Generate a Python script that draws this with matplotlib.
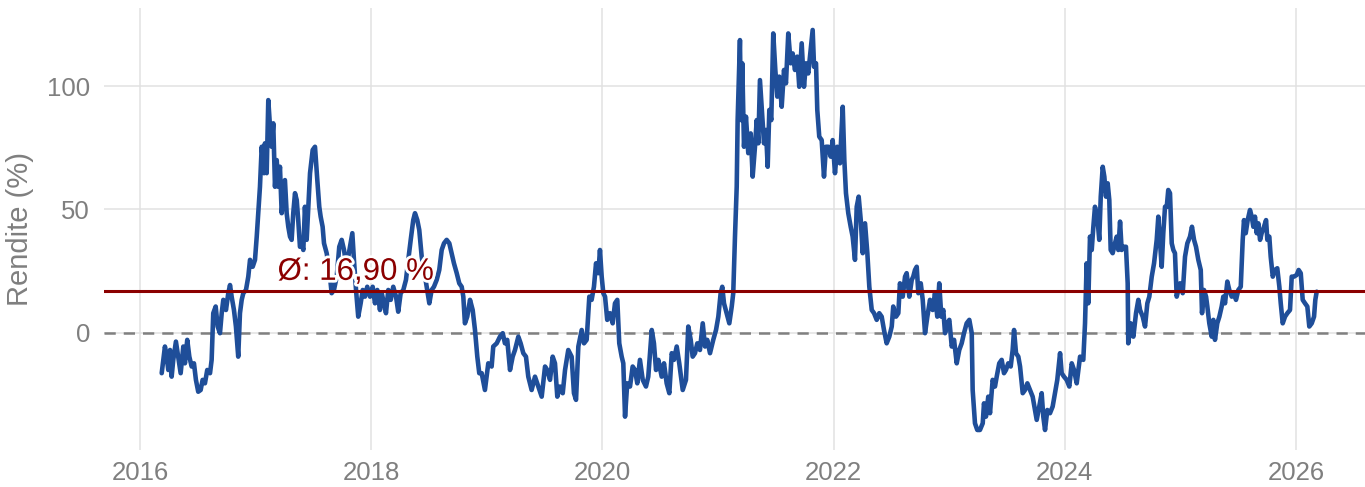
import matplotlib
matplotlib.use("Agg")
import matplotlib.pyplot as plt
import matplotlib.patheffects as pe

plt.rcParams['font.family'] = ['Liberation Sans', 'DejaVu Sans']

# ---- data (decimal years, rolling return in %) ----
years = [
    2016.188, 2016.216, 2016.231, 2016.245, 2016.260, 2016.274, 2016.288, 2016.311, 2016.331, 2016.352,
    2016.375, 2016.389, 2016.409, 2016.427, 2016.447, 2016.467, 2016.484, 2016.504, 2016.525, 2016.542,
    2016.562, 2016.582, 2016.606, 2016.620, 2016.634, 2016.655, 2016.672, 2016.692, 2016.707, 2016.721,
    2016.744, 2016.764, 2016.779, 2016.793, 2016.813, 2016.830, 2016.850, 2016.865, 2016.880, 2016.894,
    2016.917, 2016.937, 2016.952, 2016.975, 2016.995, 2017.010, 2017.023, 2017.038, 2017.053, 2017.073,
    2017.081, 2017.096, 2017.110, 2017.125, 2017.139, 2017.153, 2017.168, 2017.183, 2017.196, 2017.211,
    2017.226, 2017.240, 2017.254, 2017.269, 2017.283, 2017.298, 2017.312, 2017.326, 2017.341, 2017.356,
    2017.369, 2017.384, 2017.399, 2017.413, 2017.427,
    2017.442, 2017.471, 2017.494, 2017.514, 2017.534, 2017.551, 2017.563, 2017.580, 2017.592, 2017.615,
    2017.638, 2017.658, 2017.678, 2017.702, 2017.724, 2017.745, 2017.765, 2017.782, 2017.802, 2017.817,
    2017.837, 2017.851, 2017.869, 2017.888, 2017.909, 2017.927, 2017.946, 2017.966, 2017.990, 2018.013,
    2018.033, 2018.053, 2018.076, 2018.091, 2018.111, 2018.128, 2018.148, 2018.169, 2018.191, 2018.215,
    2018.234, 2018.255, 2018.278, 2018.301, 2018.321, 2018.342, 2018.364, 2018.379, 2018.399, 2018.416,
    2018.437, 2018.457, 2018.480, 2018.503, 2018.523, 2018.543, 2018.567, 2018.589, 2018.610, 2018.630,
    2018.653, 2018.676, 2018.696, 2018.716, 2018.740, 2018.762, 2018.783, 2018.797, 2018.811, 2018.831,
    2018.855, 2018.878, 2018.898, 2018.918, 2018.935,
    2018.956, 2018.984, 2019.013, 2019.042, 2019.056, 2019.086, 2019.114, 2019.138, 2019.157, 2019.177,
    2019.201, 2019.224, 2019.244, 2019.273, 2019.293, 2019.316, 2019.339, 2019.359, 2019.388, 2019.417,
    2019.446, 2019.475, 2019.504, 2019.523, 2019.547, 2019.570, 2019.590, 2019.610, 2019.633, 2019.657,
    2019.677, 2019.705, 2019.734, 2019.754, 2019.772, 2019.792, 2019.821, 2019.841, 2019.864, 2019.887,
    2019.907, 2019.927, 2019.945, 2019.965, 2019.979, 2019.994, 2020.008, 2020.023, 2020.042, 2020.066,
    2020.089, 2020.109, 2020.129, 2020.146, 2020.167, 2020.181, 2020.196, 2020.215, 2020.239, 2020.262,
    2020.282, 2020.302, 2020.325, 2020.349, 2020.377, 2020.397, 2020.427, 2020.446, 2020.464, 2020.484,
    2020.513, 2020.533, 2020.556, 2020.579, 2020.600, 2020.619, 2020.643, 2020.665, 2020.695, 2020.723,
    2020.743, 2020.764, 2020.781, 2020.801, 2020.821, 2020.844, 2020.868, 2020.888, 2020.907, 2020.931,
    2020.959, 2020.983, 2021.003,
    2021.023, 2021.037, 2021.052, 2021.075, 2021.098, 2021.119, 2021.132, 2021.147, 2021.162, 2021.170,
    2021.182, 2021.190, 2021.199, 2021.210, 2021.225, 2021.242, 2021.262, 2021.283, 2021.300, 2021.320,
    2021.335, 2021.349, 2021.363, 2021.378, 2021.398, 2021.415, 2021.430, 2021.444, 2021.461, 2021.478,
    2021.496, 2021.513, 2021.530, 2021.551, 2021.571, 2021.588, 2021.608, 2021.629, 2021.646, 2021.666,
    2021.686, 2021.703, 2021.724, 2021.744, 2021.761, 2021.781, 2021.802, 2021.819, 2021.831, 2021.848,
    2021.859, 2021.876, 2021.897, 2021.917, 2021.934, 2021.954, 2021.975, 2021.992, 2022.012, 2022.032,
    2022.055, 2022.079, 2022.093, 2022.107, 2022.127, 2022.148, 2022.165, 2022.185, 2022.200, 2022.217,
    2022.235, 2022.252, 2022.272, 2022.292, 2022.309, 2022.330, 2022.350, 2022.373,
    2022.395, 2022.416, 2022.436, 2022.459, 2022.482, 2022.503, 2022.516, 2022.540, 2022.560, 2022.574,
    2022.598, 2022.618, 2022.632, 2022.655, 2022.676, 2022.689, 2022.704, 2022.719, 2022.733, 2022.754,
    2022.771, 2022.791, 2022.811, 2022.834, 2022.857, 2022.877, 2022.897, 2022.914, 2022.932, 2022.949,
    2022.964, 2022.984, 2023.001, 2023.022, 2023.042, 2023.065, 2023.087, 2023.108, 2023.128, 2023.151,
    2023.174, 2023.195, 2023.203, 2023.223, 2023.243, 2023.266, 2023.290, 2023.301, 2023.318, 2023.338,
    2023.353, 2023.376, 2023.396, 2023.411, 2023.433, 2023.454, 2023.474, 2023.491, 2023.511, 2023.532,
    2023.549, 2023.561, 2023.578, 2023.598, 2023.613, 2023.636, 2023.656, 2023.676, 2023.699, 2023.722,
    2023.742, 2023.757, 2023.779, 2023.800, 2023.814, 2023.829, 2023.849, 2023.872, 2023.895, 2023.915,
    2023.935, 2023.959, 2023.973, 2023.993, 2024.016, 2024.039, 2024.060, 2024.080, 2024.103, 2024.132,
    2024.160,
    2024.175, 2024.189, 2024.203, 2024.218, 2024.233, 2024.247, 2024.261, 2024.281, 2024.298, 2024.311,
    2024.328, 2024.342, 2024.356, 2024.371, 2024.385, 2024.397, 2024.414, 2024.434, 2024.449, 2024.463,
    2024.478, 2024.492, 2024.512, 2024.529, 2024.544, 2024.549, 2024.570, 2024.593, 2024.616, 2024.636,
    2024.651, 2024.674, 2024.694, 2024.714, 2024.731, 2024.752, 2024.772, 2024.795, 2024.809, 2024.824,
    2024.838, 2024.852, 2024.867, 2024.882, 2024.895, 2024.910, 2024.925, 2024.939, 2024.953, 2024.968,
    2024.982, 2024.997,
    2025.020, 2025.040, 2025.060, 2025.083, 2025.100, 2025.118, 2025.135, 2025.155, 2025.176, 2025.187,
    2025.204, 2025.222, 2025.233, 2025.250, 2025.271, 2025.285, 2025.299, 2025.319, 2025.337, 2025.357,
    2025.371, 2025.386, 2025.406, 2025.423, 2025.444, 2025.464, 2025.481, 2025.501, 2025.522, 2025.539,
    2025.550, 2025.565, 2025.582, 2025.602, 2025.617, 2025.631, 2025.645, 2025.660, 2025.674, 2025.689,
    2025.703, 2025.723, 2025.741, 2025.752, 2025.769, 2025.781, 2025.799, 2025.818, 2025.838, 2025.856,
    2025.868, 2025.885, 2025.905, 2025.925, 2025.948, 2025.963, 2025.983, 2026.006, 2026.023, 2026.041,
    2026.058, 2026.078, 2026.098, 2026.115, 2026.136, 2026.156, 2026.167, 2026.179,
]
rendite = [
    -16.3, -5.5, -9.6, -15.0, -6.9, -17.7, -10.9, -3.5, -9.6, -16.3,
    -5.5, -12.3, -2.8, -9.6, -13.6, -12.3, -19.0, -23.8, -23.1, -19.0,
    -20.4, -15.0, -16.3, -10.9, 8.0, 10.7, 2.6, -0.1, 8.0, 13.4,
    9.3, 16.1, 19.4, 14.7, 9.3, 2.6, -9.6, 8.0, 13.4, 16.1,
    17.4, 22.8, 29.6, 26.8, 29.6, 39.0, 48.5, 59.2, 75.4, 64.7,
    76.8, 64.7, 94.3, 83.5, 75.4, 84.9, 59.2, 70.0, 59.2, 67.3,
    48.5, 55.2, 61.9, 48.5, 43.0, 39.0, 37.7, 48.5, 56.6, 53.8,
    45.7, 34.9, 36.3, 33.6, 51.1,
    37.7, 64.7, 74.1, 75.4, 61.9, 51.1, 47.1, 43.0, 36.3, 32.3,
    25.5, 16.1, 17.4, 22.8, 34.9, 37.7, 33.6, 28.2, 30.9, 34.9,
    40.4, 29.6, 17.4, 6.6, 12.0, 17.4, 14.7, 18.7, 14.7, 18.7,
    12.0, 17.4, 9.3, 16.1, 12.0, 8.0, 17.4, 13.4, 18.7, 14.7,
    8.6, 16.1, 17.4, 21.5, 29.6, 37.7, 45.7, 48.5, 45.7, 41.7,
    30.9, 25.5, 18.7, 12.0, 17.4, 18.7, 21.5, 25.5, 33.6, 36.3,
    37.7, 36.3, 32.3, 28.2, 24.2, 20.1, 18.7, 14.7, 3.9, 6.6,
    13.4, 9.3, 1.2, -9.6, -16.3,
    -16.3, -23.1, -12.3, -13.6, -5.5, -4.2, -1.5, -0.1, -4.2, -2.8,
    -15.0, -9.6, -6.9, -1.5, -4.2, -8.2, -9.6, -17.7, -23.1, -17.7,
    -21.7, -25.8, -13.6, -15.0, -19.0, -9.6, -12.3, -25.8, -21.7, -24.4,
    -15.0, -6.9, -9.6, -24.4, -27.1, -5.5, 1.2, -4.2, -2.8, 14.7,
    13.4, 18.7, 28.2, 24.2, 33.6, 22.8, 16.1, 14.7, 5.3, 8.0,
    3.9, 12.0, 13.4, -4.2, -9.6, -12.3, -33.9, -20.4, -21.7, -13.6,
    -15.0, -20.4, -10.9, -19.0, -21.7, -17.7, 1.2, -4.2, -15.0, -10.9,
    -17.7, -12.3, -20.4, -24.4, -8.2, -10.9, -5.5, -12.3, -23.1, -19.0,
    2.6, -2.8, -9.6, -8.2, -4.2, -6.9, 3.9, -5.5, -2.8, -8.2,
    -2.8, 1.2, 6.6,
    16.1, 18.7, 12.0, 8.0, 3.9, 10.7, 16.1, 39.0, 59.2, 86.2,
    106.5, 118.6, 86.2, 109.2, 75.4, 87.6, 72.8, 80.8, 63.3, 75.4,
    86.2, 76.8, 102.4, 91.6, 76.8, 82.2, 67.3, 90.3, 86.2, 121.3,
    106.5, 95.7, 103.8, 91.6, 106.5, 101.1, 121.3, 109.2, 113.2, 106.5,
    111.9, 99.7, 117.3, 99.7, 109.2, 105.1, 114.6, 122.7, 107.8, 109.2,
    90.3, 79.5, 78.1, 63.3, 75.4, 75.4, 71.4, 78.1, 64.7, 75.4,
    68.7, 91.6, 70.0, 56.6, 48.5, 43.0, 39.0, 29.6, 51.1, 55.2,
    45.7, 32.3, 44.4, 32.3, 18.7, 9.3, 8.0, 5.3,
    8.0, 6.6, 1.2, -4.2, -1.5, 2.6, 10.7, 6.6, 8.0, 20.1,
    14.7, 22.8, 24.2, 14.7, 21.5, 22.8, 25.5, 26.8, 16.1, 20.1,
    13.4, -0.1, 6.6, 13.4, 9.3, 16.1, 6.6, 20.1, 6.6, 9.3,
    -0.1, 3.9, 5.3, -5.5, -2.8, -12.3, -6.9, -4.2, -0.1, 3.9,
    5.3, -0.1, -23.1, -36.6, -39.3, -39.3, -36.6, -28.5, -33.9, -25.8,
    -32.5, -19.0, -21.7, -17.7, -12.3, -10.9, -16.3, -15.0, -12.3, -13.6,
    -6.9, 1.2, -8.2, -9.6, -13.6, -24.4, -23.1, -20.4, -23.1, -25.8,
    -31.2, -35.2, -29.8, -24.4, -33.9, -39.3, -31.2, -32.5, -29.8, -24.4,
    -19.0, -8.2, -16.3, -17.7, -19.0, -21.7, -12.3, -15.0, -20.4, -9.6,
    -10.9,
    3.9, 28.2, 12.0, 39.0, 33.6, 43.0, 51.1, 47.1, 37.7, 55.2,
    67.3, 63.3, 55.2, 60.6, 53.8, 33.6, 32.3, 36.3, 39.0, 33.6,
    45.1, 33.6, 34.9, 34.9, 20.1, -4.2, 3.9, -1.5, 8.0, 13.4,
    9.3, 6.6, 2.6, 12.0, 14.7, 22.8, 28.2, 37.7, 47.1, 36.3,
    26.8, 40.4, 51.1, 51.1, 57.9, 56.6, 36.3, 33.6, 32.3, 14.7,
    17.4, 20.1,
    16.1, 30.9, 36.3, 39.0, 43.0, 37.7, 34.9, 29.6, 25.5, 8.0,
    17.4, 14.7, 10.7, 3.9, -1.5, 5.3, -2.8, 3.9, 6.6, 10.7,
    14.7, 12.0, 20.8, 17.4, 14.7, 16.1, 13.4, 17.4, 18.7, 37.7,
    45.7, 40.4, 45.7, 49.8, 47.1, 43.0, 47.1, 40.4, 44.4, 37.7,
    40.4, 43.0, 45.7, 37.7, 39.0, 30.9, 22.8, 25.5, 26.2, 18.7,
    12.0, 3.9, 6.6, 8.0, 9.3, 22.8, 22.8, 23.5, 25.5, 24.2,
    13.4, 12.0, 10.7, 2.6, 3.9, 6.6, 13.4, 16.7,
]

mean_rendite = 16.90
mean_label = "Ø: 16,90 %"
label_year = 2017.19
x_ticks = [2016, 2018, 2020, 2022, 2024, 2026]
y_ticks = [0, 50, 100]
y_title = "Rendite (%)"

# ---- figure ----
fig = plt.figure(figsize=(13.65, 4.87), dpi=100)
ax = fig.add_axes([0.0762, 0.0760, 0.9311, 0.9076])

grid_col = "#e1e1e1"
text_col = "#7f7f7f"

ax.set_xlim(2015.689, 2026.683)
ax.set_ylim(-47.4, 131.6)
ax.set_xticks(x_ticks)
ax.set_yticks(y_ticks)
ax.set_xticklabels([str(t) for t in x_ticks])
ax.set_yticklabels([str(t) for t in y_ticks])
ax.grid(True, color=grid_col, linewidth=1.1, zorder=0)
ax.set_axisbelow(True)
for s in ax.spines.values():
    s.set_visible(False)
ax.tick_params(axis='both', length=0, labelsize=18.5, labelcolor=text_col)
ax.tick_params(axis='y', pad=10)
ax.tick_params(axis='x', pad=8)

ax.axhline(0, color="#808080", linewidth=1.8, linestyle=(0, (4.5, 3.2)), zorder=2)
ax.plot(years, rendite, color="#1f4e99", linewidth=3.3, solid_joinstyle='round',
        solid_capstyle='round', zorder=3)
ax.axhline(mean_rendite, color="#8b0000", linewidth=2.2, zorder=4)

ax.text(label_year, mean_rendite + 4.6, mean_label, color="#8b0000", fontsize=22.5,
        ha='left', va='baseline', zorder=5,
        path_effects=[pe.withStroke(linewidth=4, foreground='white')])

ax.set_ylabel(y_title, fontsize=21, color=text_col)
ax.yaxis.set_label_coords(-0.0553, 0.5)

fig.savefig("out.png", dpi=100)
